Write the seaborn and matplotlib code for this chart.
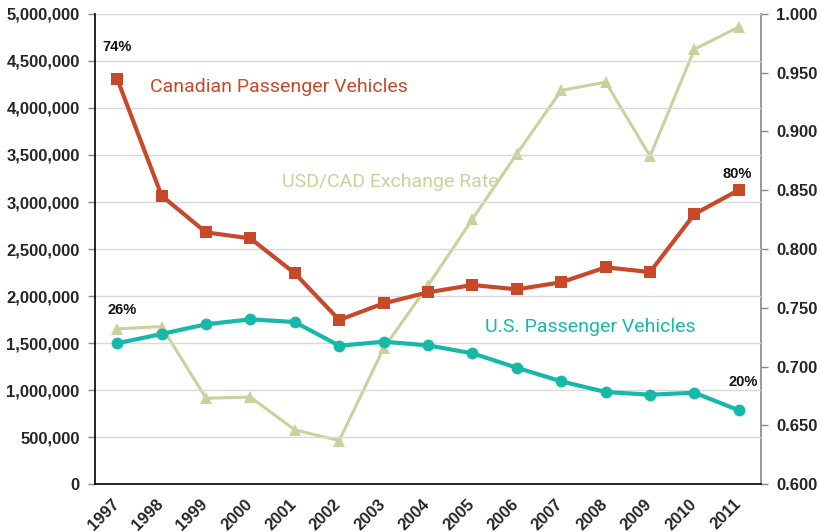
import matplotlib
matplotlib.use("Agg")
import matplotlib.pyplot as plt
import matplotlib.ticker as mticker
import matplotlib.transforms as mtransforms
import seaborn as sns
import pandas as pd
import numpy as np

years = ["1997", "1998", "1999", "2000", "2001", "2002", "2003", "2004",
         "2005", "2006", "2007", "2008", "2009", "2010", "2011"]
canadian = [4310000, 3067000, 2677000, 2613000, 2241000, 1745000, 1922000, 2039000,
            2117000, 2071000, 2146000, 2305000, 2255000, 2872000, 3128000]
us = [1497000, 1596000, 1699000, 1752000, 1723000, 1471000, 1514000, 1475000,
      1390000, 1237000, 1092000, 979000, 950000, 971000, 784000]
exchange = [0.732, 0.734, 0.673, 0.674, 0.646, 0.637, 0.7155, 0.769,
            0.8255, 0.881, 0.935, 0.942, 0.879, 0.970, 0.989]

c_can = "#C8492A"
c_us = "#16B9A8"
c_ex = "#C9D29C"

sns.set_theme(style="white")
plt.rcParams['font.family'] = ['Liberation Sans', 'DejaVu Sans']

df = pd.DataFrame({"idx": np.arange(len(years)), "year": years,
                   "canadian": canadian, "us": us, "exchange": exchange})

fig = plt.figure(figsize=(8.21, 5.32), dpi=100)
ax = fig.add_axes([0.1157, 0.0902, 0.927 - 0.1157, 0.9737 - 0.0902])
ax2 = ax.twinx()

ax2.set_zorder(0)
ax.set_zorder(1)
ax.patch.set_visible(False)

sns.lineplot(data=df, x="idx", y="exchange", ax=ax2, color=c_ex, marker="^",
             markersize=8, markeredgewidth=0, linewidth=2.2)
sns.lineplot(data=df, x="idx", y="canadian", ax=ax, color=c_can, marker="s",
             markersize=8, markeredgewidth=0, linewidth=3)
sns.lineplot(data=df, x="idx", y="us", ax=ax, color=c_us, marker="o",
             markersize=8.5, markeredgewidth=0, linewidth=3)

n = len(years)
ax.set_xlim(-0.5, n - 0.5)
ax.set_ylim(0, 5000000)
ax2.set_ylim(0.6, 1.0)

ax.set_yticks(np.arange(0, 5000001, 500000))
ax.yaxis.set_major_formatter(mticker.FuncFormatter(lambda v, p: f"{int(v):,}"))
ax2.set_yticks(np.arange(0.6, 1.0001, 0.05))
ax2.yaxis.set_major_formatter(mticker.FuncFormatter(lambda v, p: f"{v:.3f}"))

ax.set_xticks(np.arange(-0.5, n), minor=True)
ax.set_xticks(np.arange(n))
ax.set_xticklabels(years, rotation=45, ha="right", rotation_mode="anchor",
                   fontsize=12, fontweight="bold")
ax.tick_params(axis="x", which="major", length=0, pad=9)
ax.tick_params(axis="x", which="minor", length=5, color="#888888", width=1, direction="out")
ax.tick_params(axis="y", length=5, color="#888888", width=1, direction="out",
               labelsize=12, pad=6)
ax2.tick_params(axis="y", length=5, color="#888888", width=1, direction="out",
                labelsize=12, pad=6)
for lab in ax.get_yticklabels() + ax2.get_yticklabels():
    lab.set_fontweight("bold")
shift = mtransforms.ScaledTranslation(-6 / 100, 0, fig.dpi_scale_trans)
for lab in ax.get_xticklabels():
    lab.set_transform(lab.get_transform() + shift)

ax.grid(axis="y", color="#D9D9D9", linewidth=1)
ax2.grid(False)
ax.set_xlabel("")
ax.set_ylabel("")
ax2.set_ylabel("")

for a in (ax, ax2):
    a.spines["top"].set_visible(False)
ax.spines["left"].set_color("black")
ax.spines["bottom"].set_color("black")
ax.spines["right"].set_visible(False)
ax2.spines["left"].set_visible(False)
ax2.spines["bottom"].set_visible(False)
ax2.spines["right"].set_color("#888888")
ax2.spines["right"].set_linewidth(1.2)
ax.spines["left"].set_linewidth(1.2)
ax.spines["bottom"].set_linewidth(1.2)

lblfont = ['Roboto', 'Liberation Sans', 'DejaVu Sans']
ax.text(0.74, 4223000, "Canadian Passenger Vehicles", color=c_can, fontsize=14,
        family=lblfont, va="center", ha="left")
ax.text(3.71, 3213000, "USD/CAD Exchange Rate", color=c_ex, fontsize=14,
        family=lblfont, va="center", ha="left")
ax.text(8.28, 1670000, "U.S. Passenger Vehicles", color=c_us, fontsize=14,
        family=lblfont, va="center", ha="left")

for x, y, s in [(0.0, 4649000, "74%"), (0.1, 1851000, "26%"),
                (13.96, 3298000, "80%"), (14.1, 1088000, "20%")]:
    ax.text(x, y, s, fontsize=10.5, fontweight="bold", ha="center", va="center",
            color="#111111")

fig.savefig("out.png", dpi=100)
